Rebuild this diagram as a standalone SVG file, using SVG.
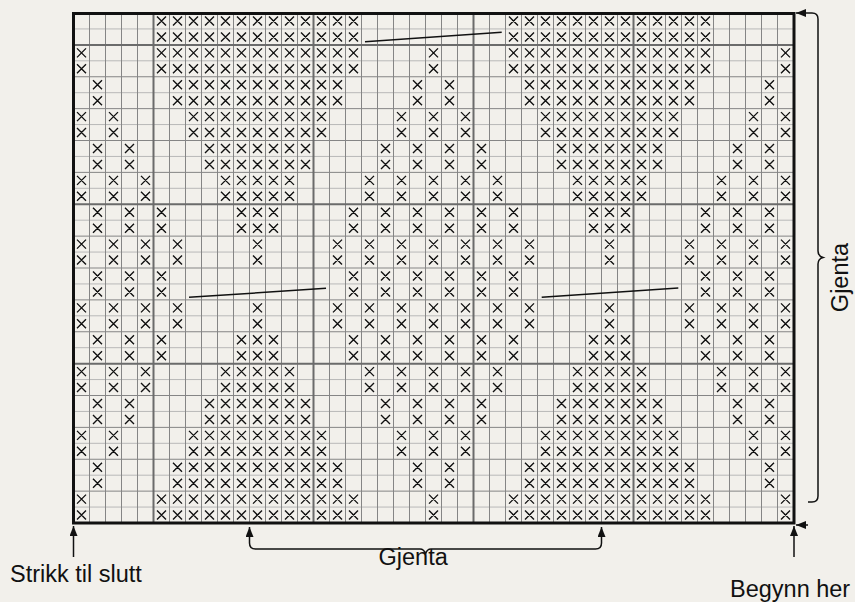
<svg xmlns="http://www.w3.org/2000/svg" xmlns:xlink="http://www.w3.org/1999/xlink" width="855" height="602" viewBox="0 0 855 602">
<style>
.xm{fill:none;stroke:#111;stroke-width:1.4}
.gl{fill:none;stroke:#b8b8b8;stroke-width:1}
.gm{fill:none;stroke:#858585;stroke-width:1}
.gt{fill:none;stroke:#6b6b6b;stroke-width:2}
.ann{fill:none;stroke:#111;stroke-width:1.5}
.sl{fill:none;stroke:#111;stroke-width:1.5}
text{font-family:"Liberation Sans",Arial,Helvetica,sans-serif;font-size:23.5px;fill:#111}
</style>
<defs>
<clipPath id="gc"><rect x="73.5" y="0" width="720" height="602"/></clipPath>
<marker id="ah" markerWidth="10" markerHeight="8" refX="10" refY="4" orient="auto-start-reverse" markerUnits="userSpaceOnUse"><path d="M0 0L10 4L0 8z" fill="#111"/></marker>
<path id="a" class="xm" d="M83.5 3.5l9 9m0-9l-9 9M99.5 3.5l9 9m0-9l-9 9M115.5 3.5l9 9m0-9l-9 9M131.5 3.5l9 9m0-9l-9 9M147.5 3.5l9 9m0-9l-9 9M163.5 3.5l9 9m0-9l-9 9M179.5 3.5l9 9m0-9l-9 9M195.5 3.5l9 9m0-9l-9 9M211.5 3.5l9 9m0-9l-9 9M227.5 3.5l9 9m0-9l-9 9M243.5 3.5l9 9m0-9l-9 9M259.5 3.5l9 9m0-9l-9 9M275.5 3.5l9 9m0-9l-9 9"/>
<path id="b" class="xm" d="M3.5 3.5l9 9m0-9l-9 9M83.5 3.5l9 9m0-9l-9 9M99.5 3.5l9 9m0-9l-9 9M115.5 3.5l9 9m0-9l-9 9M131.5 3.5l9 9m0-9l-9 9M147.5 3.5l9 9m0-9l-9 9M163.5 3.5l9 9m0-9l-9 9M179.5 3.5l9 9m0-9l-9 9M195.5 3.5l9 9m0-9l-9 9M211.5 3.5l9 9m0-9l-9 9M227.5 3.5l9 9m0-9l-9 9M243.5 3.5l9 9m0-9l-9 9M259.5 3.5l9 9m0-9l-9 9M275.5 3.5l9 9m0-9l-9 9"/>
<path id="c" class="xm" d="M19.5 3.5l9 9m0-9l-9 9M99.5 3.5l9 9m0-9l-9 9M115.5 3.5l9 9m0-9l-9 9M131.5 3.5l9 9m0-9l-9 9M147.5 3.5l9 9m0-9l-9 9M163.5 3.5l9 9m0-9l-9 9M179.5 3.5l9 9m0-9l-9 9M195.5 3.5l9 9m0-9l-9 9M211.5 3.5l9 9m0-9l-9 9M227.5 3.5l9 9m0-9l-9 9M243.5 3.5l9 9m0-9l-9 9M259.5 3.5l9 9m0-9l-9 9M339.5 3.5l9 9m0-9l-9 9"/>
<path id="d" class="xm" d="M3.5 3.5l9 9m0-9l-9 9M35.5 3.5l9 9m0-9l-9 9M115.5 3.5l9 9m0-9l-9 9M131.5 3.5l9 9m0-9l-9 9M147.5 3.5l9 9m0-9l-9 9M163.5 3.5l9 9m0-9l-9 9M179.5 3.5l9 9m0-9l-9 9M195.5 3.5l9 9m0-9l-9 9M211.5 3.5l9 9m0-9l-9 9M227.5 3.5l9 9m0-9l-9 9M243.5 3.5l9 9m0-9l-9 9M323.5 3.5l9 9m0-9l-9 9"/>
<path id="e" class="xm" d="M19.5 3.5l9 9m0-9l-9 9M51.5 3.5l9 9m0-9l-9 9M131.5 3.5l9 9m0-9l-9 9M147.5 3.5l9 9m0-9l-9 9M163.5 3.5l9 9m0-9l-9 9M179.5 3.5l9 9m0-9l-9 9M195.5 3.5l9 9m0-9l-9 9M211.5 3.5l9 9m0-9l-9 9M227.5 3.5l9 9m0-9l-9 9M307.5 3.5l9 9m0-9l-9 9M339.5 3.5l9 9m0-9l-9 9"/>
<path id="f" class="xm" d="M3.5 3.5l9 9m0-9l-9 9M35.5 3.5l9 9m0-9l-9 9M67.5 3.5l9 9m0-9l-9 9M147.5 3.5l9 9m0-9l-9 9M163.5 3.5l9 9m0-9l-9 9M179.5 3.5l9 9m0-9l-9 9M195.5 3.5l9 9m0-9l-9 9M211.5 3.5l9 9m0-9l-9 9M291.5 3.5l9 9m0-9l-9 9M323.5 3.5l9 9m0-9l-9 9"/>
<path id="g" class="xm" d="M19.5 3.5l9 9m0-9l-9 9M51.5 3.5l9 9m0-9l-9 9M83.5 3.5l9 9m0-9l-9 9M163.5 3.5l9 9m0-9l-9 9M179.5 3.5l9 9m0-9l-9 9M195.5 3.5l9 9m0-9l-9 9M275.5 3.5l9 9m0-9l-9 9M307.5 3.5l9 9m0-9l-9 9M339.5 3.5l9 9m0-9l-9 9"/>
<path id="h" class="xm" d="M3.5 3.5l9 9m0-9l-9 9M35.5 3.5l9 9m0-9l-9 9M67.5 3.5l9 9m0-9l-9 9M99.5 3.5l9 9m0-9l-9 9M179.5 3.5l9 9m0-9l-9 9M259.5 3.5l9 9m0-9l-9 9M291.5 3.5l9 9m0-9l-9 9M323.5 3.5l9 9m0-9l-9 9"/>
<path id="i" class="xm" d="M19.5 3.5l9 9m0-9l-9 9M51.5 3.5l9 9m0-9l-9 9M83.5 3.5l9 9m0-9l-9 9M275.5 3.5l9 9m0-9l-9 9M307.5 3.5l9 9m0-9l-9 9M339.5 3.5l9 9m0-9l-9 9"/>
<g id="A"><use href="#a" x="73.5"/><use href="#a" x="425.5"/><use href="#a" x="777.5"/></g>
<g id="B"><use href="#b" x="73.5"/><use href="#b" x="425.5"/><use href="#b" x="777.5"/></g>
<g id="C"><use href="#c" x="73.5"/><use href="#c" x="425.5"/><use href="#c" x="777.5"/></g>
<g id="D"><use href="#d" x="73.5"/><use href="#d" x="425.5"/><use href="#d" x="777.5"/></g>
<g id="E"><use href="#e" x="73.5"/><use href="#e" x="425.5"/><use href="#e" x="777.5"/></g>
<g id="F"><use href="#f" x="73.5"/><use href="#f" x="425.5"/><use href="#f" x="777.5"/></g>
<g id="G"><use href="#g" x="73.5"/><use href="#g" x="425.5"/><use href="#g" x="777.5"/></g>
<g id="H"><use href="#h" x="73.5"/><use href="#h" x="425.5"/><use href="#h" x="777.5"/></g>
<g id="I"><use href="#i" x="73.5"/><use href="#i" x="425.5"/><use href="#i" x="777.5"/></g>
</defs>
<rect width="855" height="602" fill="#f2f0eb"/>
<g id="grid">
<path class="gl" d="M73.5 28.94H793.5M73.5 60.81H793.5M73.5 92.69H793.5M73.5 124.56H793.5M73.5 156.44H793.5M73.5 188.31H793.5M73.5 220.19H793.5M73.5 252.06H793.5M73.5 283.94H793.5M73.5 315.81H793.5M73.5 347.69H793.5M73.5 379.56H793.5M73.5 411.44H793.5M73.5 443.31H793.5M73.5 475.19H793.5M73.5 507.06H793.5"/>
<path class="gm" d="M73.5 76.75H793.5M73.5 108.63H793.5M73.5 140.5H793.5M73.5 172.38H793.5M73.5 236.13H793.5M73.5 268H793.5M73.5 299.88H793.5M73.5 331.75H793.5M73.5 395.5H793.5M73.5 427.38H793.5M73.5 459.25H793.5M73.5 491.13H793.5"/>
<path class="gm" d="M89.5 13V523M105.5 13V523M121.5 13V523M137.5 13V523M169.5 13V523M185.5 13V523M201.5 13V523M217.5 13V523M233.5 13V523M249.5 13V523M265.5 13V523M281.5 13V523M297.5 13V523M329.5 13V523M345.5 13V523M361.5 13V523M377.5 13V523M393.5 13V523M409.5 13V523M425.5 13V523M441.5 13V523M457.5 13V523M489.5 13V523M505.5 13V523M521.5 13V523M537.5 13V523M553.5 13V523M569.5 13V523M585.5 13V523M601.5 13V523M617.5 13V523M649.5 13V523M665.5 13V523M681.5 13V523M697.5 13V523M713.5 13V523M729.5 13V523M745.5 13V523M761.5 13V523M777.5 13V523"/>
<path class="gt" d="M73.5 44.88H793.5M73.5 204.25H793.5M73.5 363.63H793.5M153.5 13V523M313.5 13V523M473.5 13V523M633.5 13V523"/>
</g>
<g id="stitches" clip-path="url(#gc)">
<use href="#A" y="13"/><use href="#A" y="28.94"/>
<use href="#B" y="44.88"/><use href="#B" y="60.81"/>
<use href="#C" y="76.75"/><use href="#C" y="92.69"/>
<use href="#D" y="108.63"/><use href="#D" y="124.56"/>
<use href="#E" y="140.5"/><use href="#E" y="156.44"/>
<use href="#F" y="172.38"/><use href="#F" y="188.31"/>
<use href="#G" y="204.25"/><use href="#G" y="220.19"/>
<use href="#H" y="236.13"/><use href="#H" y="252.06"/>
<use href="#I" y="268"/><use href="#I" y="283.94"/>
<use href="#H" y="299.88"/><use href="#H" y="315.81"/>
<use href="#G" y="331.75"/><use href="#G" y="347.69"/>
<use href="#F" y="363.63"/><use href="#F" y="379.56"/>
<use href="#E" y="395.5"/><use href="#E" y="411.44"/>
<use href="#D" y="427.38"/><use href="#D" y="443.31"/>
<use href="#C" y="459.25"/><use href="#C" y="475.19"/>
<use href="#B" y="491.13"/><use href="#B" y="507.06"/>
</g>
<g id="slants">
<path class="sl" d="M365 41.7L501.7 32.3"/>
<path class="sl" d="M189 297.3L326 288.3"/>
<path class="sl" d="M541.7 297.3L678.3 288"/>
</g>
<rect id="border" x="73.5" y="13.5" width="720.5" height="509.5" fill="none" stroke="#111" stroke-width="3"/>
<g id="connectors">
<path class="ann" marker-end="url(#ah)" d="M73.5 557V526"/>
<path class="ann" marker-end="url(#ah)" d="M794 557V526"/>
<path class="ann" marker-end="url(#ah)" d="M808 525H796"/>
<path class="ann" marker-start="url(#ah)" marker-end="url(#ah)" d="M249.5 527V543Q249.5 549 255.5 549H420Q424 549 425.5 554Q427 549 431 549H595.5Q601.5 549 601.5 543V527"/>
<path class="ann" marker-start="url(#ah)" d="M796 13H812Q818 13 818 19V251Q818 256 823 257.5Q818 259 818 264V496Q818 502 812 502H808"/>
</g>
<g id="labels">
<text x="10" y="582">Strikk til slutt</text>
<text x="378.5" y="565">Gjenta</text>
<text x="730" y="597">Begynn her</text>
<text transform="translate(848 277.5) rotate(-90)" text-anchor="middle">Gjenta</text>
</g>
</svg>
